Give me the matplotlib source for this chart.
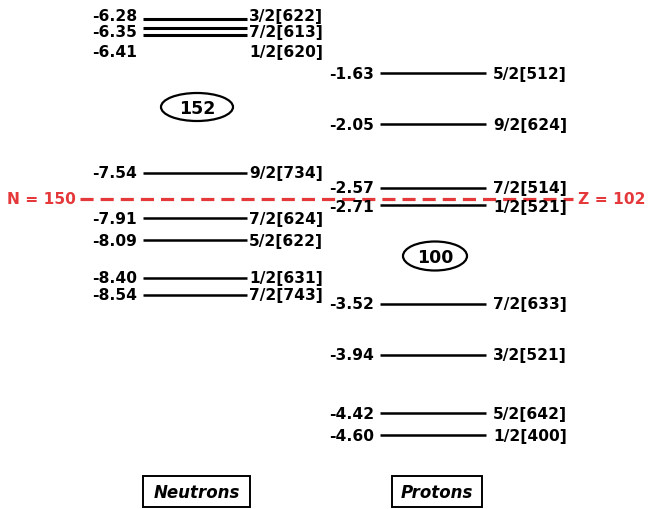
import matplotlib
matplotlib.use("Agg")
import matplotlib.pyplot as plt
from matplotlib.patches import Ellipse, Rectangle

plt.rcParams['font.family'] = ['DejaVu Sans']

# ---- data ----
neutron_energies = [-6.28, -6.35, -6.41, -7.54, -7.91, -8.09, -8.40, -8.54]
neutron_labels = ["3/2[622]", "7/2[613]", "1/2[620]", "9/2[734]",
                  "7/2[624]", "5/2[622]", "1/2[631]", "7/2[743]"]
proton_energies = [-1.63, -2.05, -2.57, -2.71, -3.52, -3.94, -4.42, -4.60]
proton_labels = ["5/2[512]", "9/2[624]", "7/2[514]", "1/2[521]",
                 "7/2[633]", "3/2[521]", "5/2[642]", "1/2[400]"]
neutron_gap = "N = 150"
proton_gap = "Z = 102"
neutron_shell = "152"
proton_shell = "100"
panel_titles = ["Neutrons", "Protons"]

W, H = 648, 510
fig = plt.figure(figsize=(W / 100, H / 100), dpi=100)

# pixel-space axes for annotations
ax = fig.add_axes([0, 0, 1, 1])
ax.set_xlim(0, W)
ax.set_ylim(H, 0)
ax.axis('off')

# energy axes (same scale: ~122 px / MeV)
ax_n = fig.add_axes([0, 0, 1, 1], facecolor='none')
ax_n.set_xlim(0, W)
ax_n.set_ylim(-10.294, -6.114)
ax_n.axis('off')

ax_p = fig.add_axes([0, 0, 1, 1], facecolor='none')
ax_p.set_xlim(0, W)
ax_p.set_ylim(-5.204, -1.023)
ax_p.axis('off')

fs = 11.2
# label nudges in points for crowded levels (style only)
n_nudge = [2.5, -3.0, -11.5, 0, 0, 0, 0, 0]
p_nudge = [0, 0, 0, -1.5, 0, 0, 0, 0]

for e, lab, nd in zip(neutron_energies, neutron_labels, n_nudge):
    lw = 2.2 if e > -6.5 else 1.8
    ax_n.plot([143, 247], [e, e], color='black', lw=lw, solid_capstyle='butt')
    ax_n.annotate(f"{e:.2f}", (137, e), xytext=(0, nd), textcoords='offset points',
                  ha='right', va='center', fontsize=fs, fontweight='bold')
    ax_n.annotate(lab, (249, e), xytext=(0, nd), textcoords='offset points',
                  ha='left', va='center', fontsize=fs, fontweight='bold')

for e, lab, nd in zip(proton_energies, proton_labels, p_nudge):
    ax_p.plot([380, 486], [e, e], color='black', lw=1.8, solid_capstyle='butt')
    ax_p.annotate(f"{e:.2f}", (374, e), xytext=(0, nd), textcoords='offset points',
                  ha='right', va='center', fontsize=fs, fontweight='bold')
    ax_p.annotate(lab, (493, e), xytext=(0, nd), textcoords='offset points',
                  ha='left', va='center', fontsize=fs, fontweight='bold')

# shell gap dashed line (between -2.57 and -2.71 protons)
red = '#e5383b'
gap_e = (proton_energies[2] + proton_energies[3]) / 2 - 0.02
ax_p.plot([80, 573], [gap_e, gap_e], color=red, lw=2.3, dashes=(4.1, 2.2))
ax_p.text(76, gap_e, neutron_gap, color=red, ha='right', va='center',
          fontsize=11.2, fontweight='bold')
ax_p.text(578, gap_e, proton_gap, color=red, ha='left', va='center',
          fontsize=11.2, fontweight='bold')

# shell closure ellipses
for (cx, cy, w, h), txt in [((197, 108, 72, 28), neutron_shell),
                            ((435, 257, 64, 29), proton_shell)]:
    ax.add_patch(Ellipse((cx, cy), w, h, fill=False, lw=1.6, color='black'))
    ax.text(cx, cy + 1, txt, ha='center', va='center', fontsize=12.5,
            fontweight='bold')

# panel title boxes
for (x0, x1), txt in [((143, 250), panel_titles[0]), ((392, 482), panel_titles[1])]:
    ax.add_patch(Rectangle((x0, 477), x1 - x0, 31, fill=False, lw=1.4,
                           edgecolor='black'))
    ax.text((x0 + x1) / 2, 493, txt, ha='center', va='center', fontsize=12,
            fontweight='bold', fontstyle='italic')

fig.savefig("out.png", dpi=100)
